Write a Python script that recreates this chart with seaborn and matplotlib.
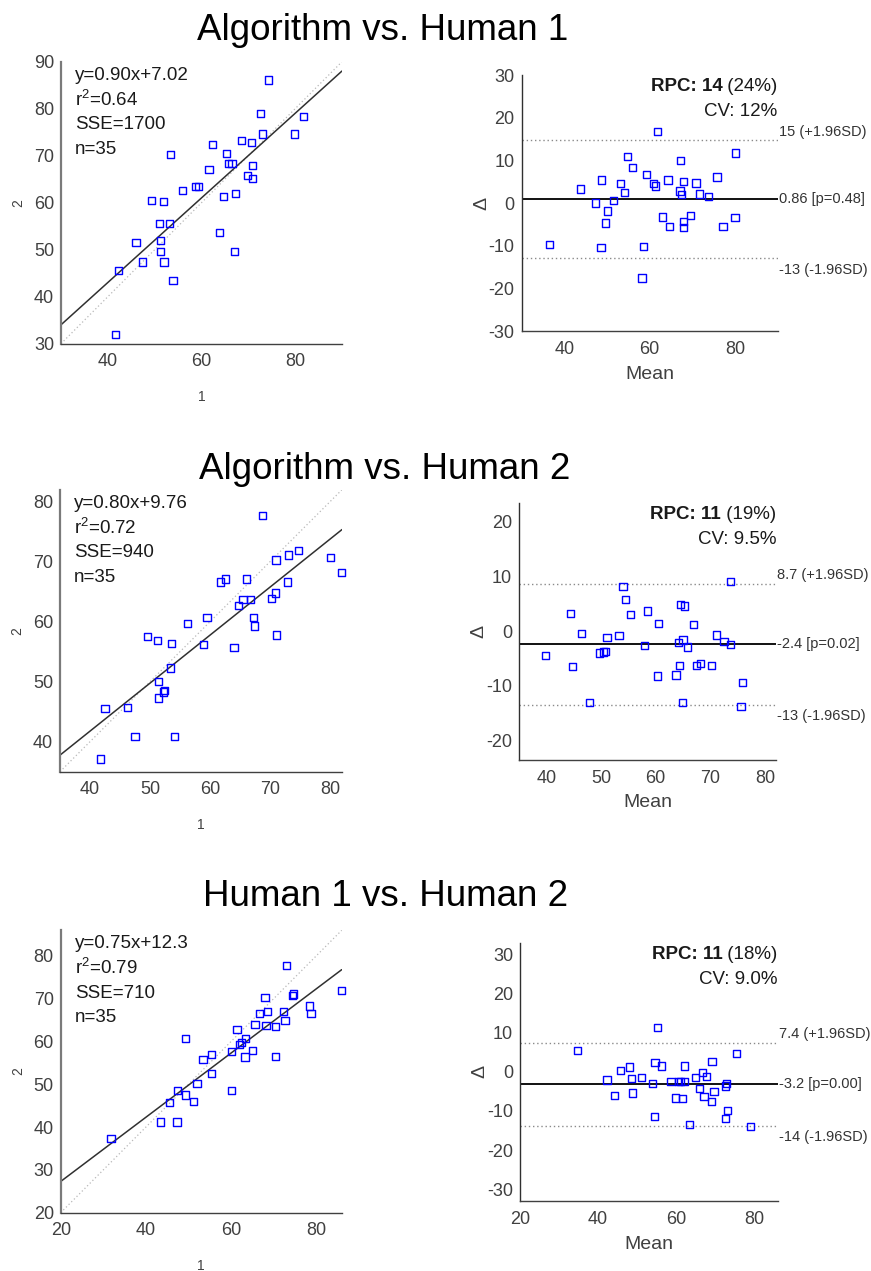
import matplotlib
matplotlib.use("Agg")
import matplotlib.pyplot as plt
import seaborn as sns
import numpy as np

# ---------------- data ----------------
titles = ["Algorithm vs. Human 1", "Algorithm vs. Human 2", "Human 1 vs. Human 2"]

s1_x = [74.3, 81.7, 72.6, 73.0, 79.8, 62.3, 68.5, 70.7, 53.4, 65.3, 65.8, 66.5, 70.9, 61.6, 69.9,
        70.9, 56.0, 58.7, 59.3, 64.7, 67.2, 49.4, 51.9, 51.0, 53.2, 63.8, 46.0, 51.2, 51.2, 67.0,
        47.4, 52.0, 53.9, 42.3, 41.7]
s1_y = [86.1, 78.4, 78.9, 74.6, 74.6, 72.3, 73.2, 72.8, 70.3, 70.4, 68.4, 68.4, 67.9, 67.0, 65.8,
        65.1, 62.6, 63.4, 63.4, 61.4, 61.9, 60.4, 60.2, 55.6, 55.6, 53.6, 51.5, 51.9, 49.6, 49.6,
        47.4, 47.4, 43.4, 45.5, 32.0]

s2_x = [68.7, 80.05, 81.9, 74.7, 73.1, 71.0, 61.8, 62.6, 66.05, 72.9, 70.9, 70.2, 65.5, 66.8, 64.8,
        67.2, 67.4, 59.5, 56.2, 71.05, 64.0, 58.9, 49.6, 51.2, 53.6, 53.4, 51.4, 52.2, 52.4, 51.4,
        42.5, 46.3, 47.5, 54.05, 41.7]
s2_y = [77.7, 70.7, 68.2, 71.9, 71.1, 70.3, 66.6, 67.1, 67.1, 66.6, 64.8, 63.9, 63.7, 63.7, 62.7,
        60.7, 59.3, 60.7, 59.7, 57.8, 55.7, 56.2, 57.5, 56.9, 56.4, 52.3, 50.05, 48.3, 48.5, 47.3,
        45.5, 45.7, 40.9, 40.9, 37.1]

s3_x = [73.1, 85.9, 74.7, 74.5, 68.0, 78.4, 78.8, 66.7, 68.5, 72.3, 72.7, 65.65, 68.2, 70.4, 61.4,
        63.4, 62.4, 62.05, 49.4, 60.2, 55.5, 53.4, 65.1, 63.3, 70.4, 55.5, 52.0, 60.1, 47.4, 49.4,
        45.5, 51.2, 43.4, 47.3, 31.8]
s3_y = [77.7, 71.9, 71.1, 70.8, 70.3, 68.3, 66.6, 66.6, 67.1, 67.1, 64.9, 64.0, 63.8, 63.6, 62.8,
        60.8, 59.8, 59.3, 60.8, 57.7, 56.9, 55.8, 57.9, 56.4, 56.5, 52.5, 50.2, 48.6, 48.5, 47.5,
        45.7, 45.9, 41.2, 41.2, 37.4]

b1_mean = [36.5, 43.75, 48.7, 47.3, 49.6, 50.2, 51.5, 48.6, 53.2, 54.2, 54.8, 56.0, 59.3, 60.9, 61.3,
           61.9, 64.3, 58.5, 58.2, 63.0, 64.6, 67.3, 67.1, 67.4, 67.9, 67.9, 67.9, 69.5, 70.9, 71.7,
           73.8, 75.8, 77.2, 80.2, 80.0]
b1_diff = [-9.7, 3.3, 5.4, 0.0, -4.7, -1.9, 0.5, -10.5, 4.5, 2.4, 10.9, 8.4, 6.6, 4.5, 4.0,
           16.8, 5.4, -10.2, -17.6, -3.3, -5.5, 9.9, 2.8, 2.0, 5.1, -4.3, -5.8, -3.0, 4.7, 2.1,
           1.6, 6.1, -5.5, 11.7, -3.4]

b2_mean = [39.9, 44.4, 44.75, 46.4, 47.9, 49.7, 50.5, 50.8, 51.1, 53.3, 54.0, 54.5, 55.4, 58.0, 58.45,
           60.3, 60.5, 63.7, 64.2, 64.35, 64.5, 65.3, 65.0, 65.75, 64.9, 66.9, 67.5, 68.25, 70.2, 71.05,
           72.5, 73.7, 73.7, 75.9, 75.6]
b2_diff = [-4.45, 3.2, -6.4, -0.4, -13.0, -4.0, -3.8, -3.7, -1.2, -0.8, 8.2, 5.8, 3.0, -2.6, 3.7,
           -8.2, 1.4, -8.0, -2.0, -6.3, 4.9, 4.6, -1.6, -2.9, -13.0, 1.2, -6.3, -5.9, -6.3, -0.7,
           -1.9, -2.4, 9.1, -9.3, -13.8]

b3_mean = [34.7, 42.3, 44.3, 45.7, 48.1, 48.5, 48.75, 51.1, 54.0, 54.6, 54.4, 55.2, 56.3, 58.7, 59.8,
           60.6, 61.1, 61.55, 62.15, 62.15, 63.35, 64.9, 65.9, 66.75, 67.1, 67.7, 69.0, 69.2, 69.7, 72.6,
           72.9, 72.6, 73.2, 75.5, 79.1]
b3_diff = [5.4, -2.1, -6.1, 0.3, 1.2, -1.8, -5.4, -1.45, -2.9, 2.3, -11.4, 11.3, 1.5, -2.5, -6.7,
           -2.5, -2.5, -6.9, 1.5, -2.5, -13.4, -1.5, -4.3, -0.25, -6.4, -1.2, -7.5, 2.6, -5.1, -3.6,
           -3.0, -12.0, -9.9, 4.7, -13.9]

fit_slope = [0.90, 0.80, 0.75]
fit_icpt = [7.02, 9.76, 12.3]
fit_labels = [["y=0.90x+7.02", "r$^{2}$=0.64", "SSE=1700", "n=35"],
              ["y=0.80x+9.76", "r$^{2}$=0.72", "SSE=940", "n=35"],
              ["y=0.75x+12.3", "r$^{2}$=0.79", "SSE=710", "n=35"]]

rpc_bold = ["RPC: 14", "RPC: 11", "RPC: 11"]
rpc_pct = [" (24%)", " (19%)", " (18%)"]
cv_text = ["CV: 12%", "CV: 9.5%", "CV: 9.0%"]

loa_upper = [14.8, 8.7, 7.4]
loa_mean = [0.86, -2.4, -3.2]
loa_lower = [-13.0, -13.5, -13.8]
loa_upper_lbl = ["15 (+1.96SD)", "8.7 (+1.96SD)", "7.4 (+1.96SD)"]
loa_mean_lbl = ["0.86 [p=0.48]", "-2.4 [p=0.02]", "-3.2 [p=0.00]"]
loa_lower_lbl = ["-13 (-1.96SD)", "-13 (-1.96SD)", "-14 (-1.96SD)"]

lims = [(30, 90), (35, 82), (20, 86)]
sc_xticks = [[40, 60, 80], [40, 50, 60, 70, 80], [20, 40, 60, 80]]
sc_yticks = [[30, 40, 50, 60, 70, 80, 90], [40, 50, 60, 70, 80], [20, 30, 40, 50, 60, 70, 80]]
ba_ylims = [(-30, 30), (-23.5, 23.5), (-33, 33)]
ba_xticks = [[40, 60, 80], [40, 50, 60, 70, 80], [20, 40, 60, 80]]
ba_yticks = [[-30, -20, -10, 0, 10, 20, 30], [-20, -10, 0, 10, 20], [-30, -20, -10, 0, 10, 20, 30]]

scat_x = [s1_x, s2_x, s3_x]
scat_y = [s1_y, s2_y, s3_y]
ba_x = [b1_mean, b2_mean, b3_mean]
ba_y = [b1_diff, b2_diff, b3_diff]

# ---------------- style ----------------
sns.set_theme(style="white")
plt.rcParams["font.family"] = ["Liberation Sans", "DejaVu Sans"]
plt.rcParams["mathtext.fontset"] = "custom"
plt.rcParams["mathtext.rm"] = "Liberation Sans"
plt.rcParams["mathtext.it"] = "Liberation Sans:italic"
plt.rcParams["mathtext.bf"] = "Liberation Sans:bold"
plt.rcParams["mathtext.default"] = "regular"
plt.rcParams["axes.unicode_minus"] = False

W, H = 871, 1271
fig = plt.figure(figsize=(W / 100, H / 100), dpi=100)
fig.patch.set_facecolor("white")


def px_axes(left, top, width, height):
    return fig.add_axes([left / W, 1 - (top + height) / H, width / W, height / H])


sc_boxes = [(61, 61.7, 281, 282), (60, 489.7, 282, 282), (60.7, 930.3, 281, 282.4)]
ba_boxes = [(521.6, 75, 256, 256), (519, 502.5, 257, 257.4), (520, 942.5, 257.7, 258.6)]
title_base = [40, 479.5, 905.5]
title_cx = [383, 385, 386]

BLUE = "#0000ff"
TXT = "#1a1a1a"
TICK = "#404040"


def style_axes(ax, left_color, left_lw):
    for s in ["top", "right"]:
        ax.spines[s].set_visible(False)
    ax.spines["left"].set_color(left_color)
    ax.spines["left"].set_linewidth(left_lw)
    ax.spines["bottom"].set_color("#404040")
    ax.spines["bottom"].set_linewidth(1.0)
    ax.tick_params(direction="in", length=3, width=0.8, color="#404040",
                   labelcolor=TICK, labelsize=13)
    ax.tick_params(axis="x", pad=7)
    ax.tick_params(axis="y", pad=5)
    ax.set_facecolor("white")
    ax.grid(False)


for i in range(3):
    # title
    fig.text(title_cx[i] / W, 1 - title_base[i] / H, titles[i], ha="center", va="baseline",
             fontsize=26.5, color="black")

    # ---- scatter / regression panel ----
    ax = px_axes(*sc_boxes[i])
    lo, hi = lims[i]
    ax.plot([lo, hi], [lo, hi], ls=(0, (1, 2)), color="#b8b8b8", lw=0.9, zorder=1)
    xs = np.array([lo, hi])
    ax.plot(xs, fit_slope[i] * xs + fit_icpt[i], color="#303030", lw=1.1, zorder=2)
    sns.scatterplot(x=scat_x[i], y=scat_y[i], ax=ax, marker="s", s=27,
                    facecolor="none", edgecolor=BLUE, linewidth=1.0, zorder=3,
                    clip_on=False, legend=False)
    ax.set_xlim(lo, hi)
    ax.set_ylim(lo, hi)
    ax.set_xticks(sc_xticks[i])
    ax.set_yticks(sc_yticks[i])
    style_axes(ax, "#7a7a7a", 1.6)
    ax.set_xlabel("")
    ax.set_ylabel("")
    ax.text(0.5, -53.5 / sc_boxes[i][3], "1", transform=ax.transAxes, ha="center",
            va="center", fontsize=10, color=TICK)
    ax.text(-42.5 / sc_boxes[i][2], 0.5, "2", transform=ax.transAxes, ha="center",
            va="center", fontsize=10, color=TICK, rotation=90)
    for k, line in enumerate(fit_labels[i]):
        ax.text(14 / sc_boxes[i][2], 1 - (13.3 + 24.8 * k) / sc_boxes[i][3], line,
                transform=ax.transAxes, ha="left", va="center", fontsize=13.5, color=TXT)

    # ---- Bland-Altman panel ----
    bx = px_axes(*ba_boxes[i])
    bx.axhline(loa_upper[i], ls=(0, (1, 2)), color="#8a8a8a", lw=1.0, zorder=1)
    bx.axhline(loa_lower[i], ls=(0, (1, 2)), color="#8a8a8a", lw=1.0, zorder=1)
    bx.axhline(loa_mean[i], color="#111111", lw=1.4, zorder=2)
    sns.scatterplot(x=ba_x[i], y=ba_y[i], ax=bx, marker="s", s=27,
                    facecolor="none", edgecolor=BLUE, linewidth=1.0, zorder=3,
                    clip_on=False, legend=False)
    bx.set_xlim(*lims[i])
    bx.set_ylim(*ba_ylims[i])
    bx.set_xticks(ba_xticks[i])
    bx.set_yticks(ba_yticks[i])
    style_axes(bx, "#303030", 1.0)
    bx.set_xlabel("")
    bx.set_ylabel("")
    bh = ba_boxes[i][3]
    bw = ba_boxes[i][2]
    bx.text(0.5, -43 / bh, "Mean", transform=bx.transAxes, ha="center", va="center",
            fontsize=14, color=TICK)
    bx.text(-40 / bw, 0.5, "\u0394", transform=bx.transAxes, ha="center", va="center",
            fontsize=14, color=TICK, rotation=90)
    t_reg = bx.text(1.0, 1 - 11.7 / bh, rpc_pct[i], transform=bx.transAxes, ha="right",
                    va="center", fontsize=13.5, color=TXT)
    bx.annotate(rpc_bold[i], xy=(0, 0.5), xycoords=t_reg, ha="right", va="center",
                fontsize=13.5, fontweight="bold", color=TXT)
    bx.text(1.0, 1 - 36.7 / bh, cv_text[i], transform=bx.transAxes, ha="right",
            va="center", fontsize=13.5, color=TXT)
    tr = bx.get_yaxis_transform()
    bx.annotate(loa_upper_lbl[i], xy=(1.0, loa_upper[i]), xycoords=tr, xytext=(1, 6),
                textcoords="offset points", ha="left", va="center", fontsize=10.5, color="#333333")
    bx.annotate(loa_mean_lbl[i], xy=(1.0, loa_mean[i]), xycoords=tr, xytext=(1, 0.5),
                textcoords="offset points", ha="left", va="center", fontsize=10.5, color="#333333")
    bx.annotate(loa_lower_lbl[i], xy=(1.0, loa_lower[i]), xycoords=tr, xytext=(1, -8),
                textcoords="offset points", ha="left", va="center", fontsize=10.5, color="#333333")

fig.savefig("out.png", dpi=100, facecolor="white")
